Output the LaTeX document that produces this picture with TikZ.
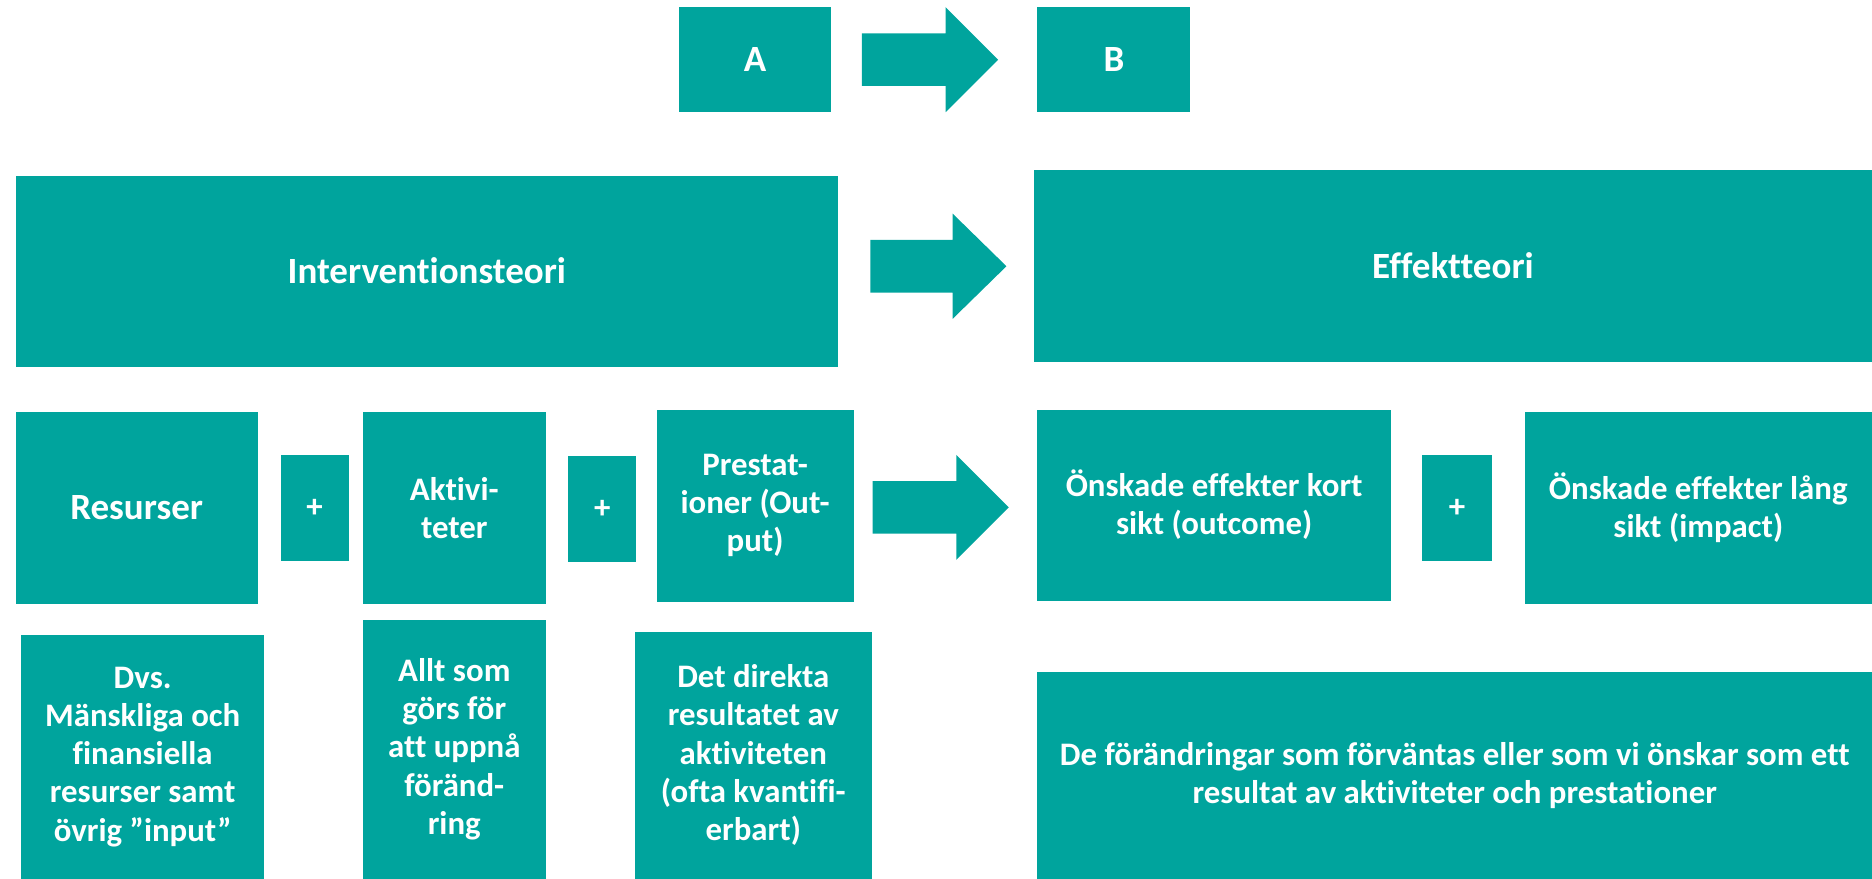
\documentclass[tikz,border=0pt]{standalone}
\usepackage{fontspec}
\setmainfont{Carlito}[Ligatures=NoCommon]
\definecolor{tealbox}{RGB}{0,164,157}
\begin{document}
\begin{tikzpicture}[x=1pt,y=-1pt,
    box/.style={fill=tealbox,text=white,align=center,inner sep=0pt,
      font=\bfseries\fontsize{27.5}{32}\selectfont},
    bigbox/.style={box,font=\bfseries\fontsize{31}{36}\selectfont},
    plusbox/.style={box,minimum width=57,minimum height=89}]
    		\useasboundingbox (0,0) rectangle (1568,736);
    		% top row
    		\node (a) at (632.5,50) [bigbox,minimum width=127,minimum height=88] {A};
    		\node (b) at (933,50) [bigbox,minimum width=128,minimum height=88] {B};
    		\node (interv) at (357.5,227) [bigbox,minimum width=689,minimum height=160] {Interventionsteori};
    		\node (effekt) at (1217,222.5) [bigbox,minimum width=702,minimum height=161] {Effektteori};
    		% middle row
    		\node (resurser) at (114.5,425.5) [bigbox,minimum width=203,minimum height=161] {Resurser};
    		\node (plusA) at (263.5,425.5) [plusbox] {+};
    		\node (aktiv) at (380.5,425.5) [box,minimum width=153,minimum height=161] {Aktivi-\\teter};
    		\node (plusB) at (504.5,426.5) [plusbox] {+};
    		\node (prest) at (632.5,423.5) [box,minimum width=165,minimum height=161] {Prestat-\\ioner (Out-\\put)};
    		\node (kort) at (1017,423) [box,minimum width=296,minimum height=160] {Önskade effekter kort\\sikt (outcome)};
    		\node (plusC) at (1220.5,425.5) [plusbox,minimum width=59] {+};
    		\node (lang) at (1422.5,425.5) [box,minimum width=291,minimum height=161] {Önskade effekter lång\\sikt (impact)};
    		% bottom row
    		\node (dvs) at (119.5,634) [box,minimum width=203,minimum height=204] {Dvs.\\Mänskliga och\\finansiella\\resurser samt\\övrig ”input”};
    		\node (allt) at (380.5,627.5) [box,minimum width=153,minimum height=217] {Allt som\\görs för\\att uppnå\\föränd-\\ring};
    		\node (direkta) at (631,632.5) [box,minimum width=198,minimum height=207] {Det direkta\\resultatet av\\aktiviteten\\(ofta kvantifi-\\erbart)};
    		\node (forandr) at (1218.5,649.5) [box,minimum width=699,minimum height=173] {De förändringar som förväntas eller som vi önskar som ett\\resultat av aktiviteter och prestationer};
    		% block arrows
    		\foreach \xa/\xb/\xc/\ym in {722/792/836/50,729/798/843/223,731/801/845/425}
    		{
    			\fill[tealbox] (\xa,\ym-22) -- (\xb,\ym-22) -- (\xb,\ym-44) -- (\xc,\ym)
    			  -- (\xb,\ym+44) -- (\xb,\ym+22) -- (\xa,\ym+22) -- cycle;
    		}
    		\end{tikzpicture}
\end{document}
